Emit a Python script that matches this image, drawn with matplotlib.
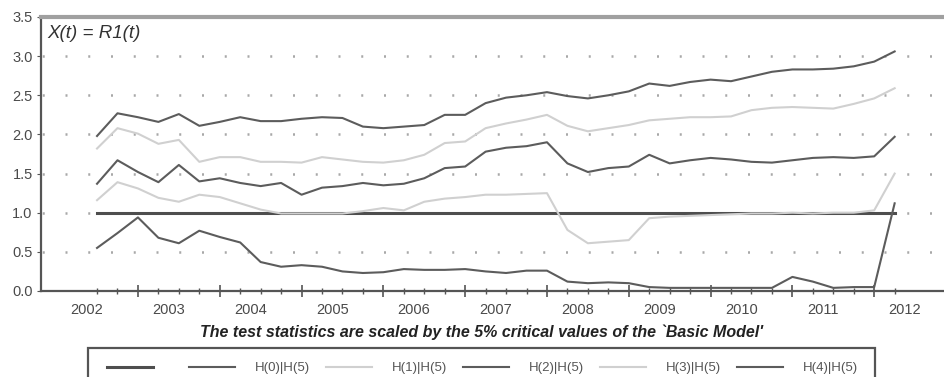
import matplotlib
matplotlib.use("Agg")
import matplotlib.pyplot as plt
from matplotlib.patches import Rectangle
import numpy as np

plt.rcParams['font.family'] = ['Liberation Sans', 'DejaVu Sans']

# quarterly observations, 2002Q1 .. 2011Q4
quarters = np.arange(40)
year_labels = ['2002', '2003', '2004', '2005', '2006', '2007', '2008', '2009', '2010', '2011', '2012']

crit_level = [1.0] * 40

h0 = [1.98, 2.27, 2.22, 2.16, 2.26, 2.11, 2.16, 2.22, 2.17, 2.17,
      2.20, 2.22, 2.21, 2.10, 2.08, 2.10, 2.12, 2.25, 2.25, 2.40,
      2.47, 2.50, 2.54, 2.49, 2.46, 2.50, 2.55, 2.65, 2.62, 2.67,
      2.70, 2.68, 2.74, 2.80, 2.83, 2.83, 2.84, 2.87, 2.93, 3.06]
h1 = [1.82, 2.08, 2.01, 1.88, 1.93, 1.65, 1.71, 1.71, 1.65, 1.65,
      1.64, 1.71, 1.68, 1.65, 1.64, 1.67, 1.74, 1.89, 1.91, 2.08,
      2.14, 2.19, 2.25, 2.11, 2.04, 2.08, 2.12, 2.18, 2.20, 2.22,
      2.22, 2.23, 2.31, 2.34, 2.35, 2.34, 2.33, 2.39, 2.46, 2.59]
h2 = [1.37, 1.67, 1.52, 1.39, 1.61, 1.40, 1.44, 1.38, 1.34, 1.38,
      1.23, 1.32, 1.34, 1.38, 1.35, 1.37, 1.44, 1.57, 1.59, 1.78,
      1.83, 1.85, 1.90, 1.63, 1.52, 1.57, 1.59, 1.74, 1.63, 1.67,
      1.70, 1.68, 1.65, 1.64, 1.67, 1.70, 1.71, 1.70, 1.72, 1.97]
h3 = [1.16, 1.39, 1.31, 1.19, 1.14, 1.23, 1.20, 1.12, 1.04, 0.99,
      0.99, 0.99, 0.99, 1.02, 1.06, 1.03, 1.14, 1.18, 1.20, 1.23,
      1.23, 1.24, 1.25, 0.78, 0.61, 0.63, 0.65, 0.93, 0.95, 0.96,
      0.97, 0.98, 0.99, 0.99, 1.00, 0.99, 1.00, 1.00, 1.03, 1.50]
h4 = [0.55, 0.74, 0.94, 0.68, 0.61, 0.77, 0.69, 0.62, 0.37, 0.31,
      0.33, 0.31, 0.25, 0.23, 0.24, 0.28, 0.27, 0.27, 0.28, 0.25,
      0.23, 0.26, 0.26, 0.12, 0.10, 0.11, 0.10, 0.05, 0.04, 0.04,
      0.04, 0.04, 0.04, 0.04, 0.18, 0.12, 0.04, 0.05, 0.05, 1.12]

labels = ['', 'H(0)|H(5)', 'H(1)|H(5)', 'H(2)|H(5)', 'H(3)|H(5)', 'H(4)|H(5)']

dark = '#5c5c5c'
light = '#d0d0d0'

fig = plt.figure(figsize=(9.44, 3.77), dpi=100)
ax = fig.add_axes([41 / 944, 86 / 377, 915 / 944, 274 / 377])

# dotted horizontal grid
for yv in [0.5, 1.0, 1.5, 2.0, 2.5, 3.0]:
    ax.axhline(yv, color='#a8a8a8', lw=1.8, zorder=1, linestyle=(8.6, (0.8, 8.3)))

handles = []
l, = ax.plot(quarters, crit_level, color='#4e4e4e', lw=2.2, zorder=2)
handles.append(l)
for vals, col in [(h0, dark), (h1, light), (h2, dark), (h3, light), (h4, dark)]:
    l, = ax.plot(quarters, vals, color=col, lw=1.5, zorder=3)
    handles.append(l)

ax.set_xlim(-2.74, 42.0)
ax.set_ylim(0, 3.5)
ax.set_yticks(np.arange(0, 3.51, 0.5))
ax.set_yticklabels(['%.1f' % v for v in np.arange(0, 3.51, 0.5)])
ax.tick_params(axis='y', length=3, color='#555555', labelcolor='#4a4a4a', labelsize=10.5, pad=3)

# quarter ticks with a longer mark every fourth quarter
ax.set_xticks(quarters[2::4])
ax.set_xticklabels([])
ax.set_xticks(quarters, minor=True)
ax.tick_params(axis='x', which='major', direction='inout', length=9, width=1.2, color='#555555')
ax.tick_params(axis='x', which='minor', direction='inout', length=5, width=1.0, color='#555555')

sec = ax.secondary_xaxis('bottom')
sec.set_xticks(np.arange(len(year_labels)) * 4 - 0.5)
sec.set_xticklabels(year_labels)
sec.tick_params(length=0, labelcolor='#4a4a4a', labelsize=10.5, pad=9)
sec.spines['bottom'].set_visible(False)

ax.spines['right'].set_visible(False)
ax.spines['top'].set_color('#a0a0a0')
ax.spines['top'].set_linewidth(3)
for s in ['left', 'bottom']:
    ax.spines[s].set_color('#555555')
    ax.spines[s].set_linewidth(1.6)

ax.text(0.007, 0.97, 'X(t) = R1(t)', transform=ax.transAxes, ha='left', va='top',
        fontsize=13.5, style='italic', color='#333333')

fig.text(481 / 944, 1 - 332 / 377, "The test statistics are scaled by the 5% critical values of the `Basic Model'",
         ha='center', va='center', fontsize=11.5, fontweight='bold', style='italic', color='#222222')

leg = fig.legend(handles, labels, loc='upper left', bbox_to_anchor=(107 / 944, 1 - 362 / 377),
                 ncol=6, fontsize=9.5, frameon=False, handlelength=3.5, borderpad=0,
                 borderaxespad=0, handletextpad=1.5, columnspacing=1.2, labelcolor='#555555')

# legend box runs off the bottom edge
fig.patches.append(Rectangle((88 / 944, -0.05), (875 - 88) / 944, (377 - 348) / 377 + 0.05,
                             transform=fig.transFigure, fill=False, edgecolor='#555555', lw=1.6))

fig.savefig('out.png', dpi=100)
